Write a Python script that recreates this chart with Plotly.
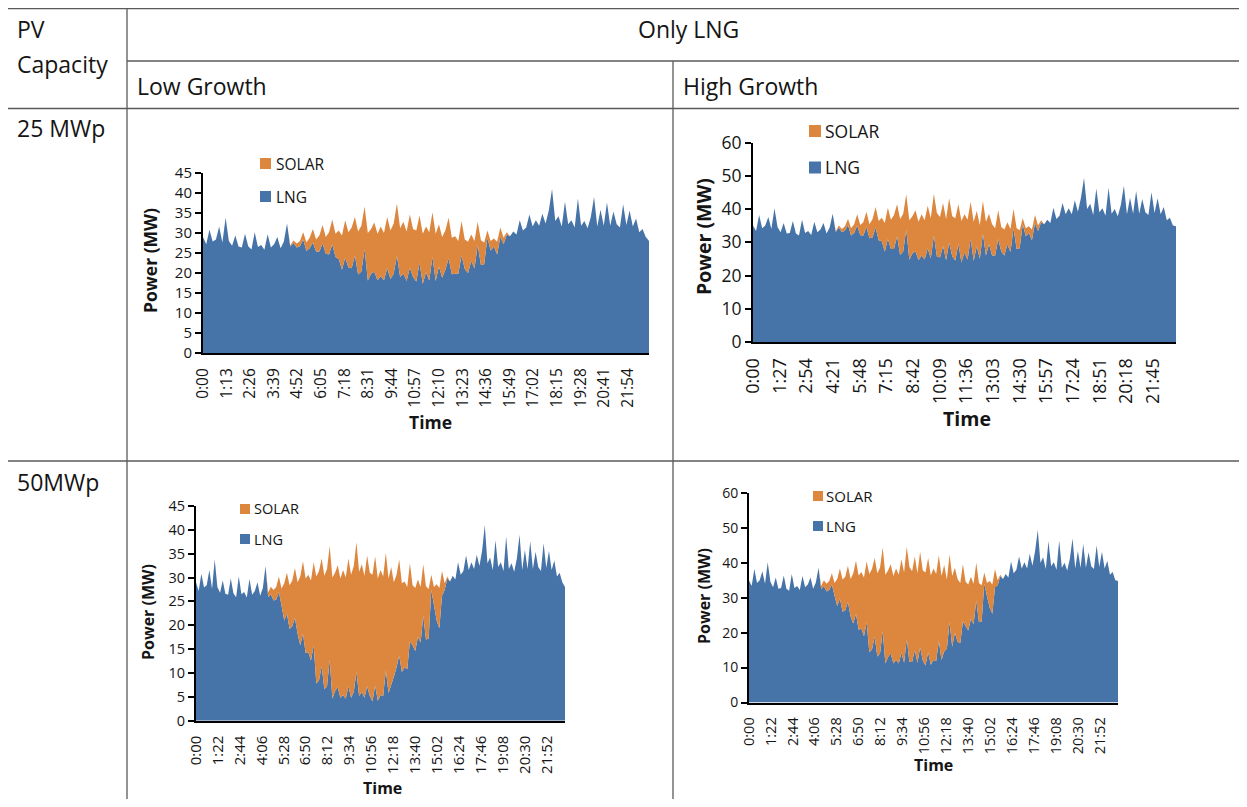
import plotly.graph_objects as go

# page is 1247x807; the browser body keeps an 8px margin, so the figure fills the rest
PAGE_W, PAGE_H = 1247, 807
OFF = 8
W, H = PAGE_W - 2 * OFF, PAGE_H - 2 * OFF

# ---------------- data (10-minute steps, 0:00 .. 23:00) ----------------
minutes = list(range(0, 23 * 60 + 1, 10))

# total demand, low growth scenario (MW)
demand_low = [
    29.0, 27.2, 30.8, 27.9, 28.4, 31.6,
    27.6, 33.8, 28.0, 26.8, 29.4, 26.6,
    26.4, 29.8, 26.7, 25.9, 30.2, 26.5,
    27.0, 25.8, 29.7, 26.4, 27.2, 29.0,
    26.2, 27.8, 32.4, 26.9, 28.1, 27.4,
    28.0, 30.2, 27.7, 28.8, 31.0, 28.4,
    29.4, 32.0, 29.0, 30.2, 33.4, 29.8,
    30.6, 29.4, 33.2, 30.2, 31.4, 34.0,
    30.4, 31.8, 36.6, 30.0, 31.0, 32.6,
    29.8, 31.6, 30.0, 34.0, 30.6, 32.4,
    37.4, 31.2, 32.8, 30.4, 34.6, 31.0,
    30.6, 34.4, 29.8, 31.6, 30.2, 35.2,
    29.8, 32.2, 29.0, 30.6, 33.8, 28.8,
    29.2, 28.0, 33.0, 28.4, 27.8, 29.6,
    28.0, 32.8, 28.2, 27.6, 30.6, 28.0,
    28.6, 27.8, 31.4, 28.8, 30.2, 29.2,
    30.4, 29.6, 33.2, 30.6, 31.4, 34.6,
    31.6, 33.2, 31.8, 34.8, 32.4, 35.6,
    41.0, 33.0, 34.2, 31.6, 37.8, 32.2,
    33.2, 31.4, 38.6, 31.8, 33.0, 31.2,
    34.0, 39.0, 31.6, 35.8, 31.8, 37.6,
    31.8, 35.4, 32.2, 31.4, 37.2, 32.0,
    35.6, 31.6, 33.6, 30.2, 31.0, 29.0,
    28.0,
]

# total demand, high growth scenario (MW)
demand_high = [
    35.0, 33.4, 38.2, 34.2, 35.0, 37.6,
    34.0, 40.2, 34.6, 33.0, 35.8, 32.6,
    32.8, 36.4, 32.6, 32.0, 36.8, 32.8,
    33.4, 32.2, 36.2, 33.0, 33.8, 35.8,
    32.6, 34.4, 38.6, 33.4, 35.0, 34.0,
    34.8, 37.0, 34.2, 35.4, 38.4, 35.2,
    36.0, 39.2, 35.4, 37.0, 40.6, 36.4,
    37.4, 35.8, 40.4, 36.8, 38.2, 41.4,
    37.0, 38.6, 44.4, 36.6, 37.8, 39.6,
    36.2, 38.4, 36.6, 41.0, 37.2, 44.6,
    38.8, 37.6, 41.8, 37.0, 43.2, 37.8,
    37.2, 41.4, 36.4, 38.4, 36.8, 42.2,
    36.2, 39.4, 35.2, 42.4, 36.2, 38.6,
    35.4, 34.2, 39.6, 34.6, 33.8, 36.0,
    34.0, 40.0, 34.2, 33.6, 37.2, 34.2,
    34.8, 33.8, 38.2, 35.0, 36.6, 35.4,
    36.8, 35.8, 40.4, 37.0, 38.0, 41.8,
    38.4, 40.2, 38.4, 42.6, 39.2, 43.4,
    49.4, 40.0, 41.6, 38.2, 46.2, 39.0,
    40.2, 38.0, 46.4, 38.6, 40.0, 37.8,
    41.2, 47.0, 38.4, 43.4, 38.6, 45.4,
    38.6, 43.0, 39.0, 38.2, 45.0, 38.8,
    43.2, 38.4, 40.6, 36.6, 37.4, 35.0,
    34.8,
]

# PV output from 4:30 to 15:40 (10-minute steps), MW
solar_start = "4:30"
solar_25 = [
    0.3, 0.6, 1.0,
    1.3, 1.8, 2.2, 2.6, 3.4, 3.1,
    4.0, 4.6, 4.2, 5.6, 6.2, 5.8,
    7.1, 8.6, 9.4, 8.8, 10.2, 9.6,
    10.8, 11.4, 10.6, 11.9, 11.2, 12.3,
    11.6, 12.4, 11.8, 12.8, 12.1, 12.6,
    13.1, 12.2, 12.9, 12.4, 13.3, 12.0,
    12.7, 11.9, 12.5, 11.4, 12.1, 11.2,
    11.8, 10.6, 10.2, 9.8, 10.2, 9.1,
    9.4, 8.2, 8.6, 7.4, 7.8, 6.6,
    6.9, 5.8, 6.2, 5.4, 1.8, 2.4,
    2.0, 3.2, 2.4, 1.6, 0.6,
]
solar_50 = [
    1.0, 1.6, 2.2,
    2.6, 3.2, 3.6, 7.8, 8.6, 9.2,
    9.6, 10.4, 10.8, 14.4, 15.2, 15.6,
    16.2, 16.8, 17.4, 22.4, 23.0, 22.6,
    23.8, 24.6, 23.9, 25.4, 24.8, 25.6,
    25.0, 26.2, 25.4, 26.8, 25.8, 26.4,
    27.2, 26.0, 26.8, 25.6, 27.4, 25.8,
    26.6, 27.0, 25.6, 26.2, 25.0, 24.6,
    24.0, 24.8, 19.8, 19.4, 20.2, 18.6,
    18.0, 17.2, 16.4, 12.6, 13.2, 12.0,
    11.6, 10.8, 11.2, 10.4, 3.2, 3.8,
    7.6, 8.4, 5.2, 1.4, 0.4,
]

# category labels shown on the time axes
ticks_25_low = ["0:00", "1:13", "2:26", "3:39", "4:52", "6:05", "7:18", "8:31", "9:44",
                "10:57", "12:10", "13:23", "14:36", "15:49", "17:02", "18:15", "19:28",
                "20:41", "21:54"]
ticks_25_high = ["0:00", "1:27", "2:54", "4:21", "5:48", "7:15", "8:42", "10:09", "11:36",
                 "13:03", "14:30", "15:57", "17:24", "18:51", "20:18", "21:45"]
ticks_50 = ["0:00", "1:22", "2:44", "4:06", "5:28", "6:50", "8:12", "9:34", "10:56",
            "12:18", "13:40", "15:02", "16:24", "17:46", "19:08", "20:30", "21:52"]

series_names = ["SOLAR", "LNG"]
row_labels = ["25 MWp", "50MWp"]
col_labels = ["Low Growth", "High Growth"]


def to_min(s):
    h, m = s.split(":")
    return int(h) * 60 + int(m)


def full_solar(vals):
    i0 = to_min(solar_start) // 10
    out = [0.0] * len(minutes)
    for k, v in enumerate(vals):
        out[i0 + k] = v
    return out


# ---------------- styling ----------------
BLUE = "#4673A8"
ORANGE = "#DD863E"
FONT = "Open Sans"
TXT = "#151515"
LINE = "#5a5a5a"


def px(x):
    return (x - OFF) / W


def py(y):
    return 1 - (y - OFF) / H


panels = [
    dict(demand=demand_low, solar=solar_25, ticks=ticks_25_low, ymax=45, dtick=5,
         xd=(203, 649), yd=(173, 353), yfs=15, xfs=15.5, tfs=17.5,
         ytitle=(150, 261), xtitle=(430, 422),
         leg=dict(x=260, sq=11, fs=15.5, ys=(163.5, 196.5), tx=274)),
    dict(demand=demand_high, solar=solar_25, ticks=ticks_25_high, ymax=60, dtick=10,
         xd=(753, 1176), yd=(142.5, 342), yfs=17.5, xfs=18, tfs=19.5,
         ytitle=(703, 237), xtitle=(967, 418),
         leg=dict(x=809, sq=12, fs=17.5, ys=(131, 167.5), tx=823)),
    dict(demand=demand_low, solar=solar_50, ticks=ticks_50, ymax=45, dtick=5,
         xd=(196, 565), yd=(506, 720.7), yfs=14.5, xfs=15, tfs=16,
         ytitle=(148, 612), xtitle=(382, 788),
         leg=dict(x=240, sq=10, fs=14.5, ys=(509, 539), tx=252)),
    dict(demand=demand_high, solar=solar_50, ticks=ticks_50, ymax=60, dtick=10,
         xd=(749, 1118), yd=(493, 702.5), yfs=14, xfs=14.5, tfs=16,
         ytitle=(704, 596), xtitle=(934, 765),
         leg=dict(x=813, sq=10, fs=15, ys=(496, 526), tx=824)),
]

fig = go.Figure()
layout = dict(
    width=W, height=H, margin=dict(l=0, r=0, t=0, b=0, autoexpand=False),
    paper_bgcolor="white", plot_bgcolor="white", showlegend=False,
    font=dict(family=FONT, color=TXT),
)
annotations = []
shapes = []

for i, p in enumerate(panels, start=1):
    xa = "x" if i == 1 else f"x{i}"
    ya = "y" if i == 1 else f"y{i}"
    solar = full_solar(p["solar"])
    lng = [round(d - s, 2) for d, s in zip(p["demand"], solar)]
    fig.add_trace(go.Scatter(x=minutes, y=lng, name="LNG", stackgroup=f"s{i}",
                             mode="lines", line=dict(width=0, color=BLUE),
                             fillcolor=BLUE, xaxis=xa, yaxis=ya))
    fig.add_trace(go.Scatter(x=minutes, y=solar, name="SOLAR", stackgroup=f"s{i}",
                             mode="lines", line=dict(width=0, color=ORANGE),
                             fillcolor=ORANGE, xaxis=xa, yaxis=ya))
    xkey = "xaxis" if i == 1 else f"xaxis{i}"
    ykey = "yaxis" if i == 1 else f"yaxis{i}"
    layout[xkey] = dict(
        domain=[px(p["xd"][0]), px(p["xd"][1])], anchor=ya, range=[0, 1380],
        tickmode="array", tickvals=[to_min(t) for t in p["ticks"]], ticktext=p["ticks"],
        tickangle=-90, tickfont=dict(size=p["xfs"], family=FONT, color=TXT),
        showline=True, linecolor="black", linewidth=2, showgrid=False, zeroline=False,
        ticks="outside", ticklen=7, tickcolor="rgba(0,0,0,0)",
    )
    layout[ykey] = dict(
        domain=[py(p["yd"][1]), py(p["yd"][0])], anchor=xa, range=[0, p["ymax"]],
        dtick=p["dtick"], tick0=0, tickfont=dict(size=p["yfs"], family=FONT, color=TXT),
        showline=True, linecolor="black", linewidth=2, showgrid=False, zeroline=False,
        ticks="outside", ticklen=6, tickwidth=2, tickcolor="black",
    )
    # axis titles
    annotations.append(dict(text="<b>Power (MW)</b>", x=px(p["ytitle"][0]), y=py(p["ytitle"][1]),
                            xref="paper", yref="paper", showarrow=False, textangle=-90,
                            xanchor="center", yanchor="middle",
                            font=dict(size=p["tfs"], family=FONT, color=TXT)))
    annotations.append(dict(text="<b>Time</b>", x=px(p["xtitle"][0]), y=py(p["xtitle"][1]),
                            xref="paper", yref="paper", showarrow=False,
                            xanchor="center", yanchor="middle",
                            font=dict(size=p["tfs"], family=FONT, color=TXT)))
    # legend (SOLAR above LNG)
    lg = p["leg"]
    for name, color, yc in zip(series_names, [ORANGE, BLUE], lg["ys"]):
        s = lg["sq"]
        shapes.append(dict(type="rect", xref="paper", yref="paper",
                           x0=px(lg["x"]), x1=px(lg["x"] + s),
                           y0=py(yc + s / 2), y1=py(yc - s / 2),
                           fillcolor=color, line=dict(width=0)))
        annotations.append(dict(text=name, x=px(lg["tx"]), y=py(yc), xref="paper", yref="paper",
                                showarrow=False, xanchor="left", yanchor="middle",
                                font=dict(size=lg["fs"], family=FONT, color=TXT)))

# ---------------- table frame ----------------
def hline(y, x0, x1, w=1.3):
    shapes.append(dict(type="line", xref="paper", yref="paper",
                       x0=max(px(x0), 0), x1=min(px(x1), 1),
                       y0=py(y), y1=py(y), line=dict(color=LINE, width=w)))


def vline(x, y0, y1, w=1.3):
    shapes.append(dict(type="line", xref="paper", yref="paper", x0=px(x), x1=px(x),
                       y0=min(py(y0), 1), y1=max(py(y1), 0), line=dict(color=LINE, width=w)))


hline(8.7, 0, PAGE_W)
hline(61, 127, PAGE_W)
hline(108.5, 0, PAGE_W)
hline(461, 0, PAGE_W)
vline(127, 8.7, PAGE_H)
vline(673, 61, PAGE_H)

HFS = 23


def label(text, x, y, anchor="left"):
    annotations.append(dict(text=text, x=px(x), y=py(y), xref="paper", yref="paper",
                            showarrow=False, xanchor=anchor, yanchor="middle",
                            font=dict(size=HFS, family=FONT, color=TXT)))


label("PV", 15, 29)
label("Capacity", 15, 64)
label("Only LNG", 688, 29, "center")
label(col_labels[0], 135, 86)
label(col_labels[1], 681, 86)
label(row_labels[0], 15, 128)
label(row_labels[1], 15, 482)

layout["annotations"] = annotations
layout["shapes"] = shapes
fig.update_layout(**layout)

fig.write_html("out.html", config={"displayModeBar": False})
